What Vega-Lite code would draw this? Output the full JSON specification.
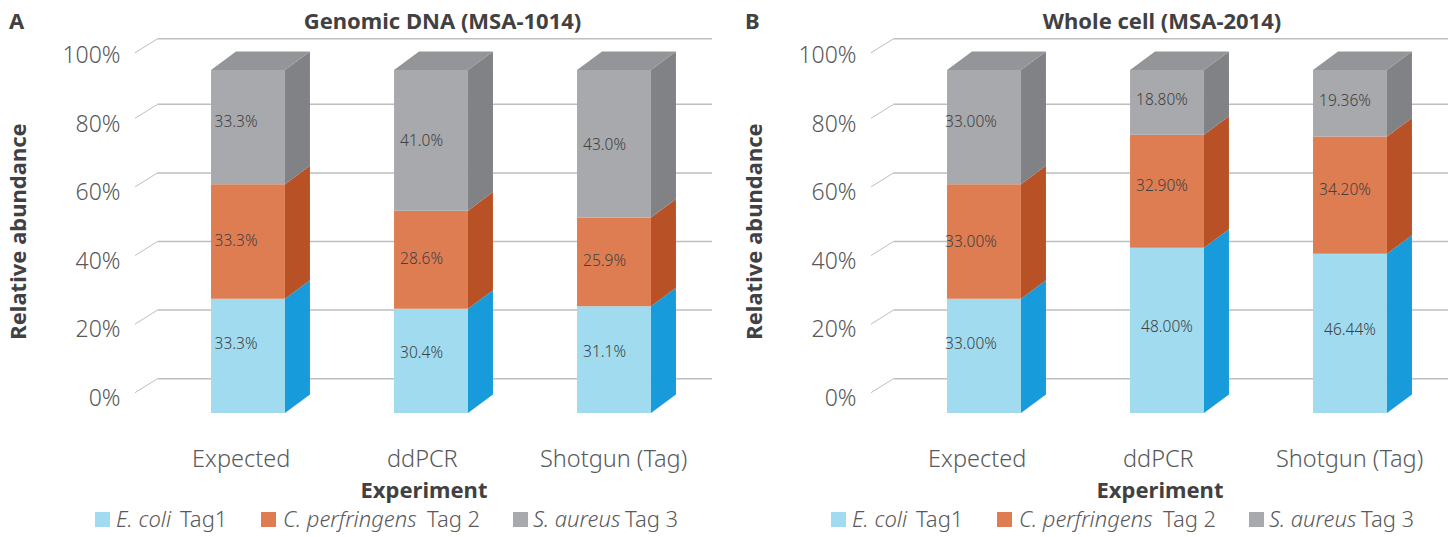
{"$schema":"https://vega.github.io/schema/vega-lite/v6.json","background":"white","padding":{"left":7,"top":10,"right":0,"bottom":30},"spacing":30,"config":{"view":{"stroke":null},"font":"Noto Sans"},
"datasets":{"segments":[
{"panel":"A","experiment":"Expected","species":"E. coli","rank":1,"value":33.3},
{"panel":"A","experiment":"Expected","species":"C. perfringens","rank":2,"value":33.3},
{"panel":"A","experiment":"Expected","species":"S. aureus","rank":3,"value":33.3},
{"panel":"A","experiment":"ddPCR","species":"E. coli","rank":1,"value":30.4},
{"panel":"A","experiment":"ddPCR","species":"C. perfringens","rank":2,"value":28.6},
{"panel":"A","experiment":"ddPCR","species":"S. aureus","rank":3,"value":41.0},
{"panel":"A","experiment":"Shotgun (Tag)","species":"E. coli","rank":1,"value":31.1},
{"panel":"A","experiment":"Shotgun (Tag)","species":"C. perfringens","rank":2,"value":25.9},
{"panel":"A","experiment":"Shotgun (Tag)","species":"S. aureus","rank":3,"value":43.0},
{"panel":"B","experiment":"Expected","species":"E. coli","rank":1,"value":33.0},
{"panel":"B","experiment":"Expected","species":"C. perfringens","rank":2,"value":33.0},
{"panel":"B","experiment":"Expected","species":"S. aureus","rank":3,"value":33.0},
{"panel":"B","experiment":"ddPCR","species":"E. coli","rank":1,"value":48.0},
{"panel":"B","experiment":"ddPCR","species":"C. perfringens","rank":2,"value":32.9},
{"panel":"B","experiment":"ddPCR","species":"S. aureus","rank":3,"value":18.8},
{"panel":"B","experiment":"Shotgun (Tag)","species":"E. coli","rank":1,"value":46.44},
{"panel":"B","experiment":"Shotgun (Tag)","species":"C. perfringens","rank":2,"value":34.2},
{"panel":"B","experiment":"Shotgun (Tag)","species":"S. aureus","rank":3,"value":19.36}],
"grid":[{"level":0},{"level":0.2},{"level":0.4},{"level":0.6},{"level":0.8},{"level":0.991}],
"legend":[{"species":"E. coli","tag":"Tag1"},{"species":"C. perfringens","tag":"Tag 2"},{"species":"S. aureus","tag":"Tag 3"}]},
"hconcat":[
{"width":577,"height":343,
"title":{"text":"Genomic DNA (MSA-1014)","fontSize":22,"fontWeight":"bold","color":"#414042","dx":19,"offset":-23},
"layer":[
{"data":{"name":"grid"},"mark":{"type":"rule","color":"#bcbec0","strokeWidth":1.5,"yOffset":-34.3},
"encoding":{"x":{"datum":-0.4945,"type":"quantitative","scale":{"domain":[-0.6175,2.5355],"nice":false,"zero":false},
"axis":{"values":[-0.04,0.95,1.995],"labelExpr":"datum.value<0.5?'Expected':datum.value<1.5?'ddPCR':'Shotgun (Tag)'","domain":false,"ticks":false,"grid":false,"labelFontSize":23.5,"labelFontWeight":300,"labelColor":"#58595b","labelPadding":34,"title":"Experiment","titleFontSize":22,"titleFontWeight":"bold","titleColor":"#414042","titleY":67,"labelOverlap":false,"labelFlush":false}},
"x2":{"datum":2.5355},
"y":{"field":"level","type":"quantitative","scale":{"domain":[0,1],"nice":false,"zero":false},
"axis":{"values":[0,0.2,0.4,0.6,0.8,1],"format":".0%","domain":false,"ticks":false,"grid":false,"labelFontSize":23,"labelFontWeight":300,"labelColor":"#58595b","labelPadding":15,"labelOffset":-14.5,"title":"Relative abundance","titleFontSize":22,"titleFontWeight":"bold","titleColor":"#414042","titleX":-105,"titleY":161}}}},
{"data":{"name":"grid"},"mark":{"type":"rule","color":"#bcbec0","strokeWidth":1,"yOffset":-20.3,"y2Offset":-34.3},
"encoding":{"x":{"datum":-0.6175,"type":"quantitative"},"x2":{"datum":-0.4945},"y":{"field":"level","type":"quantitative"},"y2":{"field":"level"}}},
{"data":{"name":"segments"},
"transform":[{"filter":"datum.panel=='A'"},{"stack":"value","groupby":["experiment"],"sort":[{"field":"rank","order":"ascending"}],"offset":"normalize","as":["y0","y1"]},{"calculate":"indexof(['Expected','ddPCR','Shotgun (Tag)'],datum.experiment)","as":"i"},{"calculate":"datum.i-0.202","as":"xl"},{"calculate":"datum.i+0.202","as":"xr"},{"calculate":"datum.i+0.3386","as":"xb"},{"calculate":"datum.i-0.0654","as":"xlb"},{"calculate":"datum.species+' side'","as":"sidekey"}],
"layer":[
{"transform":[{"fold":["xr","xb"],"as":["edge","sx"]},{"calculate":"datum.edge=='xb'?datum.y0+0.054:datum.y0","as":"sy0"},{"calculate":"datum.edge=='xb'?datum.y1+0.054:datum.y1","as":"sy1"}],
"mark":{"type":"area","interpolate":"linear"},
"encoding":{"x":{"field":"sx","type":"quantitative"},"y":{"field":"sy0","type":"quantitative","stack":null},"y2":{"field":"sy1"},"detail":{"field":"experiment"},
"color":{"field":"sidekey","type":"nominal","legend":null,"scale":{"domain":["E. coli","C. perfringens","S. aureus","E. coli side","C. perfringens side","S. aureus side"],"range":["#a0dbef","#de7d52","#a7a9ac","#179bdb","#b85226","#808285"]}}}},
{"transform":[{"filter":"datum.rank==3"},{"fold":["xl","xlb","xr","xb"],"as":["corner","tx"]},{"calculate":"datum.corner=='xl'?1:1.054","as":"ty"},{"calculate":"datum.corner=='xb'?1.054:1","as":"ty2"}],
"mark":{"type":"area","color":"#939598","interpolate":"linear"},
"encoding":{"x":{"field":"tx","type":"quantitative"},"y":{"field":"ty","type":"quantitative","stack":null},"y2":{"field":"ty2"},"detail":{"field":"experiment"}}},
{"mark":{"type":"rect"},"encoding":{"x":{"field":"xl","type":"quantitative"},"x2":{"field":"xr"},"y":{"field":"y0","type":"quantitative"},"y2":{"field":"y1"},"color":{"field":"species","type":"nominal","legend":null}}},
{"transform":[{"calculate":"format(datum.value,'.1f')+'%'","as":"label"},{"calculate":"(datum.y0+datum.y1)/2","as":"ym"}],
"mark":{"type":"text","fontSize":15.5,"fontWeight":300,"color":"#414042","dx":{"expr":"datum.i==0?-12:-9.5"},"dy":{"expr":"datum.rank==1?(datum.i==0?-12:-8):datum.rank==2?-1:(datum.i==0?-5:1)"}},
"encoding":{"x":{"field":"i","type":"quantitative"},"y":{"field":"ym","type":"quantitative"},"text":{"field":"label"}}}
]},
{"data":{"values":[{"label":"A"}]},"mark":{"type":"text","align":"left","fontSize":22,"fontWeight":"bold","color":"#414042"},
"encoding":{"x":{"datum":-1.306,"type":"quantitative"},"y":{"datum":1.14,"type":"quantitative"},"text":{"field":"label"}}},
{"data":{"name":"legend"},"transform":[{"calculate":"{'E. coli':-0.795,'C. perfringens':0.112,'S. aureus':1.489}[datum.species]","as":"sq"}],"mark":{"type":"point","shape":"square","filled":true,"size":225,"opacity":1},
"encoding":{"x":{"field":"sq","type":"quantitative"},"y":{"datum":-0.3105,"type":"quantitative"},"color":{"field":"species","type":"nominal","legend":null}}},
{"data":{"name":"legend"},"transform":[{"calculate":"{'E. coli':-0.721,'C. perfringens':0.191,'S. aureus':1.557}[datum.species]","as":"nx"}],"mark":{"type":"text","align":"left","fontSize":22,"fontStyle":"italic","fontWeight":300,"color":"#58595b"},
"encoding":{"x":{"field":"nx","type":"quantitative"},"y":{"datum":-0.3105,"type":"quantitative"},"text":{"field":"species"}}},
{"data":{"name":"legend"},"transform":[{"calculate":"{'E. coli':-0.372,'C. perfringens':0.978,'S. aureus':2.06}[datum.species]","as":"tx"}],"mark":{"type":"text","align":"left","fontSize":22,"fontWeight":300,"color":"#58595b"},
"encoding":{"x":{"field":"tx","type":"quantitative"},"y":{"datum":-0.3105,"type":"quantitative"},"text":{"field":"tag"}}}
]},
{"width":577,"height":343,
"title":{"text":"Whole cell (MSA-2014)","fontSize":22,"fontWeight":"bold","color":"#414042","dx":2.5,"offset":-23},
"layer":[
{"data":{"name":"grid"},"mark":{"type":"rule","color":"#bcbec0","strokeWidth":1.5,"yOffset":-34.3},
"encoding":{"x":{"datum":-0.4945,"type":"quantitative","scale":{"domain":[-0.6175,2.5355],"nice":false,"zero":false},
"axis":{"values":[-0.04,0.95,1.995],"labelExpr":"datum.value<0.5?'Expected':datum.value<1.5?'ddPCR':'Shotgun (Tag)'","domain":false,"ticks":false,"grid":false,"labelFontSize":23.5,"labelFontWeight":300,"labelColor":"#58595b","labelPadding":34,"title":"Experiment","titleFontSize":22,"titleFontWeight":"bold","titleColor":"#414042","titleY":67,"labelOverlap":false,"labelFlush":false}},
"x2":{"datum":2.5355},
"y":{"field":"level","type":"quantitative","scale":{"domain":[0,1],"nice":false,"zero":false},
"axis":{"values":[0,0.2,0.4,0.6,0.8,1],"format":".0%","domain":false,"ticks":false,"grid":false,"labelFontSize":23,"labelFontWeight":300,"labelColor":"#58595b","labelPadding":15,"labelOffset":-14.5,"title":"Relative abundance","titleFontSize":22,"titleFontWeight":"bold","titleColor":"#414042","titleX":-105,"titleY":161}}}},
{"data":{"name":"grid"},"mark":{"type":"rule","color":"#bcbec0","strokeWidth":1,"yOffset":-20.3,"y2Offset":-34.3},
"encoding":{"x":{"datum":-0.6175,"type":"quantitative"},"x2":{"datum":-0.4945},"y":{"field":"level","type":"quantitative"},"y2":{"field":"level"}}},
{"data":{"name":"segments"},
"transform":[{"filter":"datum.panel=='B'"},{"stack":"value","groupby":["experiment"],"sort":[{"field":"rank","order":"ascending"}],"offset":"normalize","as":["y0","y1"]},{"calculate":"indexof(['Expected','ddPCR','Shotgun (Tag)'],datum.experiment)","as":"i"},{"calculate":"datum.i-0.202","as":"xl"},{"calculate":"datum.i+0.202","as":"xr"},{"calculate":"datum.i+0.3386","as":"xb"},{"calculate":"datum.i-0.0654","as":"xlb"},{"calculate":"datum.species+' side'","as":"sidekey"}],
"layer":[
{"transform":[{"fold":["xr","xb"],"as":["edge","sx"]},{"calculate":"datum.edge=='xb'?datum.y0+0.054:datum.y0","as":"sy0"},{"calculate":"datum.edge=='xb'?datum.y1+0.054:datum.y1","as":"sy1"}],
"mark":{"type":"area","interpolate":"linear"},
"encoding":{"x":{"field":"sx","type":"quantitative"},"y":{"field":"sy0","type":"quantitative","stack":null},"y2":{"field":"sy1"},"detail":{"field":"experiment"},
"color":{"field":"sidekey","type":"nominal","legend":null,"scale":{"domain":["E. coli","C. perfringens","S. aureus","E. coli side","C. perfringens side","S. aureus side"],"range":["#a0dbef","#de7d52","#a7a9ac","#179bdb","#b85226","#808285"]}}}},
{"transform":[{"filter":"datum.rank==3"},{"fold":["xl","xlb","xr","xb"],"as":["corner","tx"]},{"calculate":"datum.corner=='xl'?1:1.054","as":"ty"},{"calculate":"datum.corner=='xb'?1.054:1","as":"ty2"}],
"mark":{"type":"area","color":"#939598","interpolate":"linear"},
"encoding":{"x":{"field":"tx","type":"quantitative"},"y":{"field":"ty","type":"quantitative","stack":null},"y2":{"field":"ty2"},"detail":{"field":"experiment"}}},
{"mark":{"type":"rect"},"encoding":{"x":{"field":"xl","type":"quantitative"},"x2":{"field":"xr"},"y":{"field":"y0","type":"quantitative"},"y2":{"field":"y1"},"color":{"field":"species","type":"nominal","legend":null}}},
{"transform":[{"calculate":"format(datum.value,'.2f')+'%'","as":"label"},{"calculate":"(datum.y0+datum.y1)/2","as":"ym"}],
"mark":{"type":"text","fontSize":15.5,"fontWeight":300,"color":"#414042","dx":{"expr":"datum.i==0?-13:(datum.rank==1?0:-5)"},"dy":{"expr":"datum.i==0?(datum.rank==1?-12:datum.rank==2?0:-5):(datum.rank==1?-3:datum.rank==2?-5:-2)"}},
"encoding":{"x":{"field":"i","type":"quantitative"},"y":{"field":"ym","type":"quantitative"},"text":{"field":"label"}}}
]},
{"data":{"values":[{"label":"B"}]},"mark":{"type":"text","align":"left","fontSize":22,"fontWeight":"bold","color":"#414042"},
"encoding":{"x":{"datum":-1.306,"type":"quantitative"},"y":{"datum":1.14,"type":"quantitative"},"text":{"field":"label"}}},
{"data":{"name":"legend"},"transform":[{"calculate":"{'E. coli':-0.795,'C. perfringens':0.112,'S. aureus':1.489}[datum.species]","as":"sq"}],"mark":{"type":"point","shape":"square","filled":true,"size":225,"opacity":1},
"encoding":{"x":{"field":"sq","type":"quantitative"},"y":{"datum":-0.3105,"type":"quantitative"},"color":{"field":"species","type":"nominal","legend":null}}},
{"data":{"name":"legend"},"transform":[{"calculate":"{'E. coli':-0.721,'C. perfringens':0.191,'S. aureus':1.557}[datum.species]","as":"nx"}],"mark":{"type":"text","align":"left","fontSize":22,"fontStyle":"italic","fontWeight":300,"color":"#58595b"},
"encoding":{"x":{"field":"nx","type":"quantitative"},"y":{"datum":-0.3105,"type":"quantitative"},"text":{"field":"species"}}},
{"data":{"name":"legend"},"transform":[{"calculate":"{'E. coli':-0.372,'C. perfringens':0.978,'S. aureus':2.06}[datum.species]","as":"tx"}],"mark":{"type":"text","align":"left","fontSize":22,"fontWeight":300,"color":"#58595b"},
"encoding":{"x":{"field":"tx","type":"quantitative"},"y":{"datum":-0.3105,"type":"quantitative"},"text":{"field":"tag"}}}
]}
]}
